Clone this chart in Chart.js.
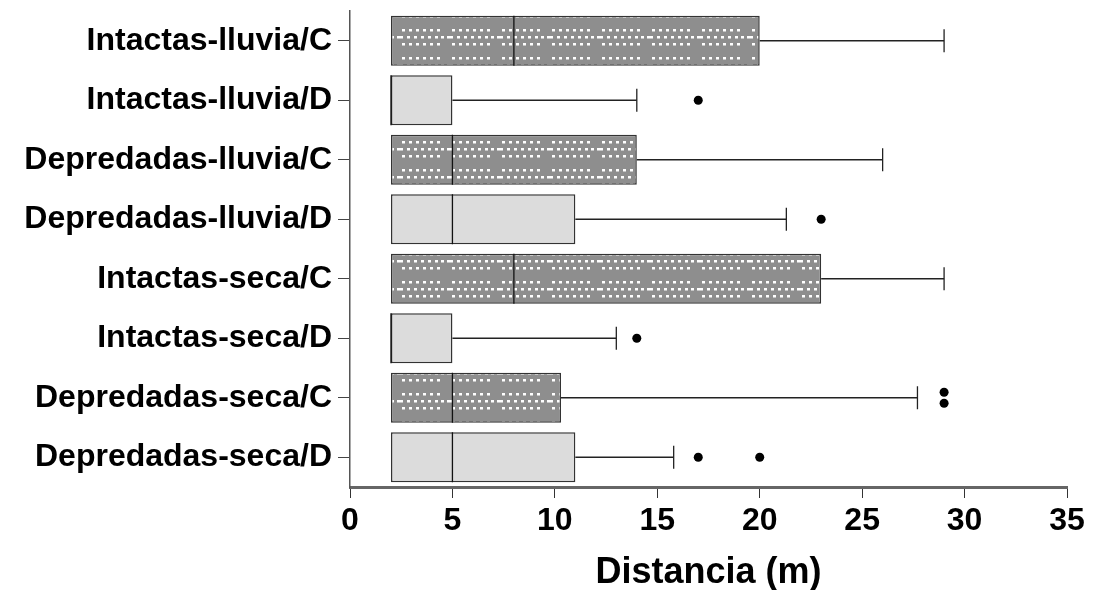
<!DOCTYPE html>
<html>
<head>
<meta charset="utf-8">
<script src="https://cdn.jsdelivr.net/npm/chart.js@4/dist/chart.umd.min.js"></script>
<style>
html,body{margin:0;padding:0;background:#fff;}
#wrap{width:1093px;height:590px;position:relative;}
</style>
</head>
<body>
<div id="wrap"><canvas id="c" width="1093" height="590"></canvas></div>
<script>
const categories = ["Intactas-lluvia/C","Intactas-lluvia/D","Depredadas-lluvia/C","Depredadas-lluvia/D","Intactas-seca/C","Intactas-seca/D","Depredadas-seca/C","Depredadas-seca/D"];
const minValues    = [2, 2, 2, 2, 2, 2, 2, 2];
const q1Values     = [2, 2, 2, 2, 2, 2, 2, 2];
const medianValues = [8, 2, 5, 5, 8, 2, 5, 5];
const q3Values     = [20, 5, 14, 11, 23, 5, 10.3, 11];
const maxValues    = [29, 14, 26, 21.3, 29, 13, 27.7, 15.8];
const outliers     = [[], [17], [], [23], [], [14], [29, 29], [17, 20]];
const xTicks       = [0, 5, 10, 15, 20, 25, 30, 35];

function makePattern(){
  const t = document.createElement('canvas');
  t.width = 50; t.height = 28;
  const g = t.getContext('2d');
  g.fillStyle = '#8e8e8e';
  g.fillRect(0,0,50,28);
  g.fillStyle = '#ffffff';
  const rowA = [2, 8.5, 16, 22.5, 30, 36.5];
  const rowB = [0, 6.5, 14, 20.5, 28, 34.5, 41, 47];
  rowA.forEach(x=>{ g.fillRect(Math.round(x), 1, 3, 2.5); g.fillRect(Math.round(x), 15, 3, 2.5); });
  rowB.forEach(x=>{ g.fillRect(Math.round(x), 8, 3, 2.5); });
  return document.createElement('canvas').getContext('2d').createPattern(t,'repeat');
}
const pat = makePattern();
const fills = categories.map(c => c.endsWith('/C') ? pat : '#dcdcdc');

const boxPlugin = {
  id:'boxExtras',
  afterDatasetsDraw(chart){
    const ctx = chart.ctx, xs = chart.scales.x, ys = chart.scales.y;
    const meta = chart.getDatasetMeta(0);
    ctx.save();
    categories.forEach((c,i)=>{
      const bar = meta.data[i];
      const yc = ys.getPixelForValue(i);
      const h = bar.height;
      ctx.strokeStyle = '#111'; ctx.lineWidth = 1.3;
      const xm = xs.getPixelForValue(medianValues[i]);
      ctx.beginPath(); ctx.moveTo(xm, yc-h/2); ctx.lineTo(xm, yc+h/2); ctx.stroke();
      ctx.strokeStyle = '#222'; ctx.lineWidth = 1.3;
      const x3 = xs.getPixelForValue(q3Values[i]);
      const xmax = xs.getPixelForValue(maxValues[i]);
      if (maxValues[i] > q3Values[i]) {
        ctx.beginPath(); ctx.moveTo(x3, yc); ctx.lineTo(xmax, yc); ctx.stroke();
        ctx.beginPath(); ctx.moveTo(xmax, yc-11.5); ctx.lineTo(xmax, yc+11.5); ctx.stroke();
      }
      const x1 = xs.getPixelForValue(q1Values[i]);
      const xmin = xs.getPixelForValue(minValues[i]);
      if (minValues[i] < q1Values[i]) {
        ctx.beginPath(); ctx.moveTo(x1, yc); ctx.lineTo(xmin, yc); ctx.stroke();
        ctx.beginPath(); ctx.moveTo(xmin, yc-11.5); ctx.lineTo(xmin, yc+11.5); ctx.stroke();
      }
      const counts = {};
      outliers[i].forEach(v=>{ counts[v] = (counts[v]||0)+1; });
      const seen = {};
      ctx.fillStyle = '#000';
      outliers[i].forEach(v=>{
        const n = counts[v]; const k = seen[v]||0; seen[v] = k+1;
        const dy = (k - (n-1)/2) * 11;
        ctx.beginPath(); ctx.arc(xs.getPixelForValue(v), yc+dy, 4.5, 0, Math.PI*2); ctx.fill();
      });
    });
    ctx.restore();
  }
};

new Chart(document.getElementById('c'), {
  type:'bar',
  data:{
    labels: categories,
    datasets:[{
      data: categories.map((c,i)=>[q1Values[i], q3Values[i]]),
      backgroundColor: fills,
      borderColor:'#333',
      borderWidth:1.5,
      borderSkipped:false,
      barPercentage:0.84,
      categoryPercentage:1
    }]
  },
  options:{
    indexAxis:'y',
    responsive:false,
    animation:false,
    layout:{padding:{top:11,right:26,left:0,bottom:0}},
    plugins:{legend:{display:false},tooltip:{enabled:false}},
    scales:{
      x:{
        min:0,max:35,
        afterBuildTicks(s){ s.ticks = xTicks.map(v=>({value:v})); },
        afterFit(s){ s.height = 103; s.paddingLeft = 0; s.paddingRight = 0; },
        grid:{drawOnChartArea:false, tickLength:11, color:'#333', tickWidth:1},
        border:{color:'#666', width:3},
        ticks:{color:'#000', font:{family:'Liberation Sans, Arial', size:32, weight:'bold'}, padding:4},
        title:{display:true, text:'Distancia (m)', color:'#000', font:{family:'Liberation Sans, Arial', size:36, weight:'bold'}, padding:{top:0,bottom:-5}}
      },
      y:{
        offset:true,
        afterFit(s){ s.width = 350; s.paddingTop = 0; s.paddingBottom = 0; },
        grid:{drawOnChartArea:false, tickLength:12, color:'#444', offset:false},
        border:{color:'#555', width:1.5},
        ticks:{color:'#000', font:{family:'Liberation Sans, Arial', size:32, weight:'bold'}, padding:6}
      }
    }
  },
  plugins:[boxPlugin]
});
</script>
</body>
</html>
